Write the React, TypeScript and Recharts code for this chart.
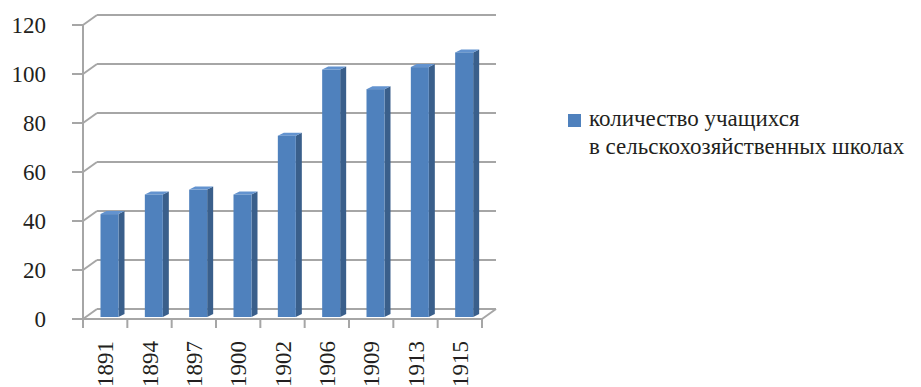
import React from 'react';
import { Bar, BarChart, CartesianGrid, Legend, XAxis, YAxis } from 'recharts';

const years = ['1891', '1894', '1897', '1900', '1902', '1906', '1909', '1913', '1915'];
const students = [42, 50, 52, 50, 74, 101, 93, 102, 108];
const yTicks = [0, 20, 40, 60, 80, 100, 120];
const legendLines = ['количество учащихся', 'в сельскохозяйственных школах'];

const data = years.map((year, i) => ({ year, students: students[i] }));

const WIDTH = 921;
const HEIGHT = 387;
const MARGIN = { top: 25, right: 439, bottom: 0, left: 0 };
const Y_AXIS_W = 83;
const X_AXIS_H = 68;
const PLOT_W = WIDTH - MARGIN.left - MARGIN.right - Y_AXIS_W;
const STEP = PLOT_W / years.length;
const FLOOR_Y = HEIGHT - MARGIN.bottom - X_AXIS_H;

// perspective offset of the back wall
const DEPTH_X = 14;
const DEPTH_Y = 10;

const GRID = '#a6a6a6';
const TEXT = '#231f20';
const FRONT = '#4f81bd';
const SIDE = '#3a5f8b';
const TOP = '#6393cf';
const FONT = 'Liberation Serif, DejaVu Serif, Times New Roman, serif';

// each horizontal grid line is drawn on the back wall, joined to the front axis
const renderGridLine = (props: any) => {
  const { x1, y1, x2, y2 } = props;
  const isFloor = Math.abs(y1 - FLOOR_Y) < 1;
  return (
    <g key={`grid-${y1}`}>
      <line x1={x1} y1={y1} x2={x1 + DEPTH_X} y2={y1 - DEPTH_Y} stroke={GRID} strokeWidth={2} />
      <line
        x1={x1 + DEPTH_X}
        y1={y1 - DEPTH_Y}
        x2={x2 + DEPTH_X}
        y2={y2 - DEPTH_Y}
        stroke={GRID}
        strokeWidth={2}
      />
      {isFloor && (
        <line x1={x2} y1={y2} x2={x2 + DEPTH_X} y2={y2 - DEPTH_Y} stroke={GRID} strokeWidth={2} />
      )}
    </g>
  );
};

// box-like column: front face, darker side, lighter top
const Bar3D = (props: any) => {
  const { x, y, width, height } = props;
  const fx = x + 4.5;
  const top = y - 2;
  const bottom = y + height - 2;
  const sx = 6;
  const sy = 3;
  return (
    <g>
      <polygon
        points={`${fx + width},${top} ${fx + width + sx},${top - sy} ${fx + width + sx},${bottom - sy} ${fx + width},${bottom}`}
        fill={SIDE}
      />
      <polygon
        points={`${fx},${top} ${fx + sx},${top - sy} ${fx + width + sx},${top - sy} ${fx + width},${top}`}
        fill={TOP}
      />
      <rect x={fx} y={top} width={width} height={Math.max(height, 0)} fill={FRONT} />
    </g>
  );
};

// tick marks sit between the categories, labels run bottom to top
const YearTick = (props: any) => {
  const { x, payload, index } = props;
  return (
    <g>
      <line x1={x - STEP / 2} y1={FLOOR_Y} x2={x - STEP / 2} y2={FLOOR_Y + 9} stroke={GRID} strokeWidth={2} />
      {index === years.length - 1 && (
        <line x1={x + STEP / 2} y1={FLOOR_Y} x2={x + STEP / 2} y2={FLOOR_Y + 9} stroke={GRID} strokeWidth={2} />
      )}
      <text
        transform={`translate(${x},${FLOOR_Y + 22}) rotate(-90)`}
        textAnchor='end'
        dy='0.35em'
        fontSize={23}
        style={{ fontFamily: FONT }}
        fill={TEXT}
      >
        {payload.value}
      </text>
    </g>
  );
};

const LegendBox = () => (
  <div
    style={{
      position: 'relative',
      fontFamily: FONT,
      fontSize: 23,
      lineHeight: '28px',
      color: TEXT,
      whiteSpace: 'nowrap',
    }}
  >
    <span
      style={{ position: 'absolute', left: 0, top: 9, width: 13, height: 13, background: FRONT }}
    />
    <div style={{ marginLeft: 21 }}>
      {legendLines[0]}
      <br />
      {legendLines[1]}
    </div>
  </div>
);

const App = () => (
  <div
    style={{
      position: 'absolute',
      left: 0,
      top: 0,
      width: WIDTH,
      height: HEIGHT,
      background: '#fff',
      fontFamily: FONT,
    }}
  >
    <BarChart width={WIDTH} height={HEIGHT} data={data} margin={MARGIN} style={{ fontFamily: FONT }}>
      <CartesianGrid vertical={false} horizontal={renderGridLine} />
      <XAxis
        dataKey='year'
        height={X_AXIS_H}
        axisLine={{ stroke: GRID, strokeWidth: 2 }}
        tickLine={false}
        tick={<YearTick />}
        interval={0}
      />
      <YAxis
        width={Y_AXIS_W}
        domain={[0, 120]}
        ticks={yTicks}
        axisLine={{ stroke: GRID, strokeWidth: 2 }}
        tickLine={{ stroke: GRID, strokeWidth: 2 }}
        tickSize={11}
        tickMargin={26}
        tick={{ fontSize: 23, fill: TEXT, style: { fontFamily: FONT } }}
      />
      <Legend
        layout='vertical'
        align='center'
        verticalAlign='middle'
        content={<LegendBox />}
        wrapperStyle={{ left: 568, top: 105, width: 353 }}
      />
      <Bar dataKey='students' barSize={18} shape={<Bar3D />} isAnimationActive={false} />
    </BarChart>
  </div>
);

export default App;
